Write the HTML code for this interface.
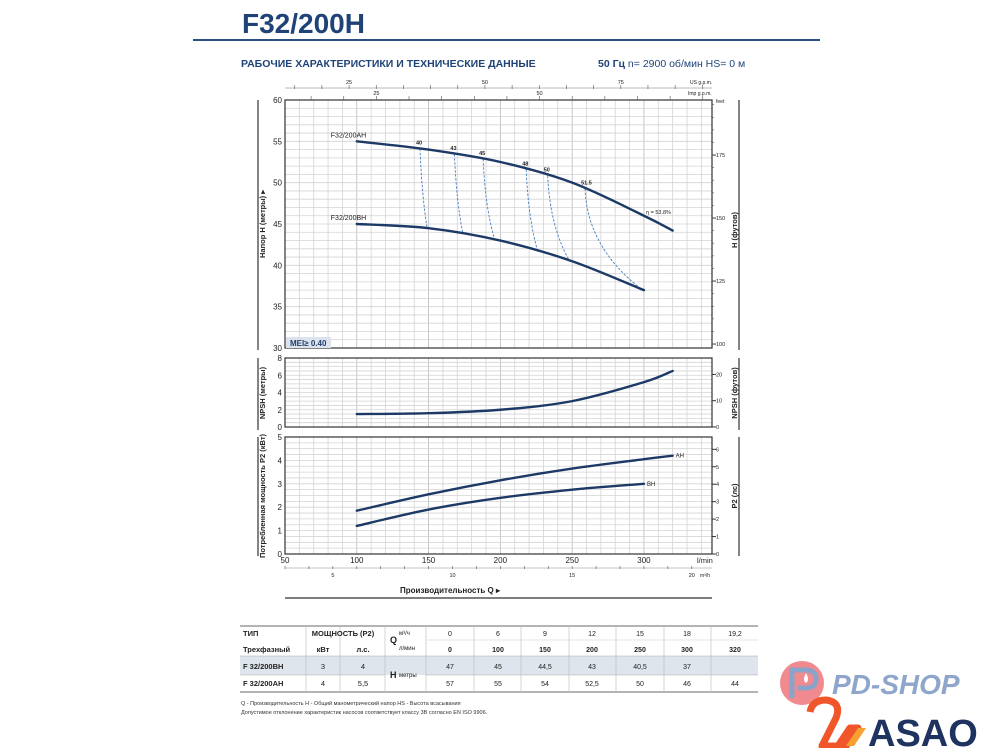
<!DOCTYPE html>
<html><head><meta charset="utf-8">
<style>
body{margin:0;background:#fff;width:1000px;height:748px;overflow:hidden;font-family:"Liberation Sans",sans-serif;}
svg text{font-family:"Liberation Sans",sans-serif;}
</style></head>
<body>
<svg id="c" width="1000" height="748" viewBox="0 0 1000 748" xmlns="http://www.w3.org/2000/svg">
<text x="242" y="33" font-size="28" font-weight="bold" fill="#1f4377">F32/200H</text>
<line x1="193" y1="40" x2="820" y2="40" stroke="#2b4f80" stroke-width="2"/>
<text x="241" y="67" font-size="10.5" font-weight="bold" fill="#1f4377">РАБОЧИЕ ХАРАКТЕРИСТИКИ И ТЕХНИЧЕСКИЕ ДАННЫЕ</text>
<text x="598" y="67" font-size="10.5" fill="#1f4377"><tspan font-weight="bold">50 Гц</tspan>   n= 2900 об/мин   HS= 0 м</text>
<g id="g"></g>
</svg>
<script>
// ---- data ----
const qCats = [100,150,200,250,300,320];
const headAH = [55,54,52.5,50,46,44.2];
const qBH = [100,150,200,250,300];
const headBH = [45,44.5,43,40.5,37];
const npshVals = [1.5,1.6,2.0,3.0,5.2,6.5];
const powerAH = [1.85,2.55,3.15,3.65,4.05,4.2];
const powerBH = [1.2,1.9,2.4,2.75,3.0];
const effLabels = ["40","43","45","48","50","51.5"];
const effQTop = [144,168,188,218,233,259];
const effQBot = [149,174,196,226,248,298];
const headTicks = [30,35,40,45,50,55,60];
const feetTicks = [100,125,150,175];
const npshTicks = [0,2,4,6,8];
const npshFtTicks = [0,10,20];
const powerTicks = [0,1,2,3,4,5];
const hpTicks = [0,1,2,3,4,5,6];
const qTicks = [50,100,150,200,250,300];
const m3hTicks = [5,10,15,20];
const usTicks = [25,50,75];
const impTicks = [25,50];

const NS="http://www.w3.org/2000/svg", G=document.getElementById('g');
function el(t,a,p){const e=document.createElementNS(NS,t);for(const k in a)e.setAttribute(k,a[k]);(p||G).appendChild(e);return e;}
function tx(x,y,s,a){const e=el('text',Object.assign({x:x,y:y,'font-size':8,fill:'#222'},a||{}));e.textContent=s;return e;}
const X0=285,X1=712,QMIN=50,QMAX=347.4;
const xq=q=>X0+(q-QMIN)*(X1-X0)/(QMAX-QMIN);
const yH=h=>348-(h-30)*248/30;
const yN=n=>427-n*69/8;
const yP=p=>554-p*117/5;
function lerp(xs,ys,q){for(let i=0;i<xs.length-1;i++){if(q<=xs[i+1]){const t=(q-xs[i])/(xs[i+1]-xs[i]);return ys[i]+t*(ys[i+1]-ys[i]);}}return ys[ys.length-1];}
function smooth(xs,ys,fy){let d='';const n=xs.length;
 for(let i=0;i<n;i++){const x=xq(xs[i]),y=fy(ys[i]);
  if(i==0){d+='M'+x+','+y;continue;}
  const x0=xq(xs[i-1]),y0=fy(ys[i-1]);
  const xm=xq(xs[Math.max(0,i-2)]),ym=fy(ys[Math.max(0,i-2)]);
  const xp=xq(xs[Math.min(n-1,i+1)]),yp=fy(ys[Math.min(n-1,i+1)]);
  const c1x=x0+(x-xm)/6,c1y=y0+(y-ym)/6,c2x=x-(xp-x0)/6,c2y=y-(yp-y0)/6;
  d+=' C'+c1x+','+c1y+' '+c2x+','+c2y+' '+x+','+y;}
 return d;}
function panel(top,bot,minorStep,fy,vmin,vmax,name){
 const g=el('g',{});
 
 
 for(let q=60;q<QMAX;q+=10){el('line',{x1:xq(q),x2:xq(q),y1:top,y2:bot,stroke:(q%50==0)?'#b9b9b9':'#d4d4d4','stroke-width':0.8},g);}
 for(let v=vmin+minorStep;v<vmax-1e-6;v+=minorStep){el('line',{x1:X0,x2:X1,y1:fy(v),y2:fy(v),stroke:'#d4d4d4','stroke-width':0.8},g);}
 el('rect',{x:X0,y:top,width:X1-X0,height:bot-top,fill:'none',stroke:'#333','stroke-width':1.2},g);
 return g;}
panel(100,348,1,yH,30,60,'head-plot-area');
panel(358,427,0.5,yN,0,8,'npsh-plot-area');
panel(437,554,0.25,yP,0,5,'power-plot-area');
[[100,350],[358,430],[437,556]].forEach(r=>{
 const a=el('line',{x1:258,x2:258,y1:r[0],y2:r[1],stroke:'#333','stroke-width':1.2});
 
 
 const b=el('line',{x1:739,x2:739,y1:r[0],y2:r[1],stroke:'#333','stroke-width':1.2});
 
 });
headTicks.forEach(v=>{const t=tx(282,yH(v)+3,String(v),{'text-anchor':'end','font-size':8});
 
 });
feetTicks.forEach(v=>{const y=yH(v/3.281);el('line',{x1:X1,x2:X1+4,y1:y,y2:y,stroke:'#333'});
 const t=tx(716,y+2,String(v),{'font-size':5.5});
 
 });
for(let f=100;f<=195;f+=5){const y=yH(f/3.281);if(y>=100&&y<=348)el('line',{x1:X1,x2:X1+2,y1:y,y2:y,stroke:'#555','stroke-width':0.6});}
tx(716,103,'feet',{'font-size':5});
npshTicks.forEach(v=>{const t=tx(282,yN(v)+3,String(v),{'text-anchor':'end'});
 
 });
npshFtTicks.forEach(v=>{const y=yN(v/3.281);el('line',{x1:X1,x2:X1+4,y1:y,y2:y,stroke:'#333'});
 const t=tx(716,y+2,String(v),{'font-size':5.5});
 
 });
powerTicks.forEach(v=>{const t=tx(282,yP(v)+3,String(v),{'text-anchor':'end'});
 
 });
hpTicks.forEach(v=>{const y=yP(v*0.7457);el('line',{x1:X1,x2:X1+4,y1:y,y2:y,stroke:'#333'});
 const t=tx(716,y+2,String(v),{'font-size':5.5});
 
 });
qTicks.forEach(v=>{const t=tx(xq(v),563,String(v),{'text-anchor':'middle','font-size':8});
 
 });
tx(697,563,'l/min',{'font-size':7.5});
el('line',{x1:X0,x2:X1,y1:568,y2:568,stroke:'#888','stroke-width':0.5});
for(let m=3;m<=20.8;m+=1){const x=xq(m*1000/60);el('line',{x1:x,x2:x,y1:566,y2:569,stroke:'#555','stroke-width':0.6});}
m3hTicks.forEach(v=>{const t=tx(xq(v*1000/60),577,String(v),{'text-anchor':'middle','font-size':5.5});
 
 });
tx(700,577,'m³/h',{'font-size':5});
tx(450,593,'Производительность Q ▸',{'font-size':8,'font-weight':'bold','text-anchor':'middle'});
el('line',{x1:285,x2:712,y1:598,y2:598,stroke:'#555','stroke-width':1.5});
el('line',{x1:285,x2:712,y1:88,y2:88,stroke:'#777','stroke-width':0.5});
for(let g=5;g<=90;g+=5){const x=xq(g*3.785);if(x>=X0&&x<=X1)el('line',{x1:x,x2:x,y1:85,y2:89,stroke:'#555','stroke-width':0.6});}
usTicks.forEach(v=>{const t=tx(xq(v*3.785),84,String(v),{'text-anchor':'middle','font-size':5.5});
 
 });
tx(690,84,'US g.p.m.',{'font-size':5});
for(let g=5;g<=75;g+=5){const x=xq(g*4.546);if(x>=X0&&x<=X1)el('line',{x1:x,x2:x,y1:96,y2:100,stroke:'#555','stroke-width':0.6});}
impTicks.forEach(v=>{const t=tx(xq(v*4.546),95,String(v),{'text-anchor':'middle','font-size':5.5});
 
 });
tx(688,95,'Imp g.p.m.',{'font-size':5});
function vt(x,y,s,name){const t=tx(x,y,s,{transform:'rotate(-90 '+x+' '+y+')','text-anchor':'middle','font-size':7.5,'font-weight':'bold'});
 
 }
vt(265,224,'Напор H (метры) ▸','head-axis-title');
vt(265,393,'NPSH (метры)','npsh-axis-title');
vt(265,496,'Потребленная мощность P2 (кВт)','power-axis-title');
vt(737,230,'H (футов)','feet-axis-title');
vt(737,393,'NPSH (футов)','npsh-ft-axis-title');
vt(737,496,'P2 (лс)','hp-axis-title');
effLabels.forEach((lab,i)=>{
 const qt=effQTop[i],qb=effQBot[i];
 const x1=xq(qt),y1=yH(lerp(qCats,headAH,qt)),x2=xq(qb),y2=yH(lerp(qBH,headBH,qb));
 const p=el('path',{d:'M'+x1+','+y1+' Q'+(x1+2)+','+((y1+y2)/2+8)+' '+x2+','+y2,fill:'none',stroke:'#4a7fc0','stroke-width':0.9,'stroke-dasharray':'2.5,1.5'});
 
 
 const t=tx(x1-4,y1-4,lab,{'font-size':5.5,'font-weight':'bold'});
 
 });
function curve(xs,ys,fy,name){const p=el('path',{d:smooth(xs,ys,fy),fill:'none',stroke:'#1d3a66','stroke-width':2.4,'stroke-linecap':'round'});
 
 }
curve(qCats,headAH,yH,'head-curve-ah');
curve(qBH,headBH,yH,'head-curve-bh');
curve(qCats,npshVals,yN,'npsh-curve');
curve(qCats,powerAH,yP,'power-curve-ah');
curve(qBH,powerBH,yP,'power-curve-bh');
tx(xq(100)-26,yH(headAH[0])-4,'F32/200AH',{'font-size':7});
tx(xq(100)-26,yH(headBH[0])-4,'F32/200BH',{'font-size':7});
tx(646,214,'η = 53.8%',{'font-size':5.5});
tx(xq(320)+3,yP(powerAH[5])+2,'AH',{'font-size':6});
tx(xq(300)+3,yP(powerBH[4])+2,'BH',{'font-size':6});
el('rect',{x:286,y:337,width:45,height:11,fill:'#dde3ec'});
tx(290,346,'MEI≥ 0.40',{'font-size':8,'font-weight':'bold','fill':'#1f3f6e'});

const T=el('g',{});


el('rect',{x:240,y:656,width:518,height:19,fill:'#dfe5ec'},T);
el('line',{x1:240,x2:758,y1:626,y2:626,stroke:'#888','stroke-width':1.2},T);
el('line',{x1:240,x2:758,y1:692,y2:692,stroke:'#888','stroke-width':1.2},T);
el('line',{x1:240,x2:758,y1:656,y2:656,stroke:'#aaa','stroke-width':0.6},T);
el('line',{x1:240,x2:385,y1:675,y2:675,stroke:'#aaa','stroke-width':0.6},T);
el('line',{x1:426,x2:758,y1:675,y2:675,stroke:'#aaa','stroke-width':0.6},T);
el('line',{x1:426,x2:758,y1:640,y2:640,stroke:'#ccc','stroke-width':0.6},T);
[306,340,385,426,474,521,569,616,664,711].forEach(x=>el('line',{x1:x,x2:x,y1:626,y2:692,stroke:'#bbb','stroke-width':0.6},T));
const colX=[450,498,545,592,640,687,735];
const m3h=["0","6","9","12","15","18","19,2"],lmin=["0","100","150","200","250","300","320"];
const rowBH=["47","45","44,5","43","40,5","37",""],rowAH=["57","55","54","52,5","50","46","44"];
function tt(x,y,s,a){const e=tx(x,y,s,Object.assign({'font-size':7.5,fill:'#222'},a||{}));T.appendChild(e);return e;}
tt(243,636,'ТИП',{'font-weight':'bold'});tt(243,652,'Трехфазный',{'font-weight':'bold'});
tt(343,636,'МОЩНОСТЬ (P2)',{'font-weight':'bold','text-anchor':'middle'});
tt(323,652,'кВт',{'font-weight':'bold','text-anchor':'middle'});tt(363,652,'л.с.',{'font-weight':'bold','text-anchor':'middle'});
tt(390,643,'Q',{'font-weight':'bold','font-size':9});tt(399,635,'м³/ч',{'font-size':6});tt(399,650,'л/мин',{'font-size':6});
tt(243,669,'F 32/200BH',{'font-weight':'bold'});tt(243,686,'F 32/200AH',{'font-weight':'bold'});
tt(323,669,'3',{'text-anchor':'middle'});tt(363,669,'4',{'text-anchor':'middle'});
tt(323,686,'4',{'text-anchor':'middle'});tt(363,686,'5,5',{'text-anchor':'middle'});
tt(390,678,'H',{'font-weight':'bold','font-size':9});tt(399,677,'метры',{'font-size':6});
colX.forEach((x,i)=>{tt(x,636,m3h[i],{'text-anchor':'middle','font-size':7});tt(x,652,lmin[i],{'text-anchor':'middle','font-weight':'bold','font-size':7});
 tt(x,669,rowBH[i],{'text-anchor':'middle','font-size':7});tt(x,686,rowAH[i],{'text-anchor':'middle','font-size':7});});
tx(241,705,'Q - Производительность   H - Общий манометрический напор   HS - Высота всасывания',{'font-size':5.5,fill:'#333'});
tx(241,714,'Допустимое отклонение характеристик насосов соответствует классу 3B согласно EN ISO 9906.',{'font-size':5.5,fill:'#333'});
const L=el('g',{});


el('circle',{cx:802,cy:683,r:22,fill:'#f08a8f'},L);
el('path',{d:'M792,698 L792,670 L806,670 Q816,670 816,679 Q816,688 806,688 L798,688',fill:'none',stroke:'#8aa3c9','stroke-width':5},L);
el('path',{d:'M806,673 Q802,680 806,683 Q810,680 806,673Z',fill:'#fff'},L);
const pt=tx(832,694,'PD-SHOP',{'font-size':28,'font-weight':'bold','font-style':'italic',fill:'#8ea6cb'});L.appendChild(pt);
el('path',{d:'M810,712 Q812,700 826,700 Q842,702 836,718 L822,746 L838,746 L850,728 L858,728 L846,746 L832,746',fill:'none',stroke:'#f0562a','stroke-width':7,'stroke-linejoin':'round'},L);
el('path',{d:'M846,746 L858,728 L866,728 L854,746Z',fill:'#f5a030'},L);
const at=tx(868,746,'ASAO',{'font-size':38,'font-weight':'bold',fill:'#1f3360'});L.appendChild(at);
</script>
</body></html>
